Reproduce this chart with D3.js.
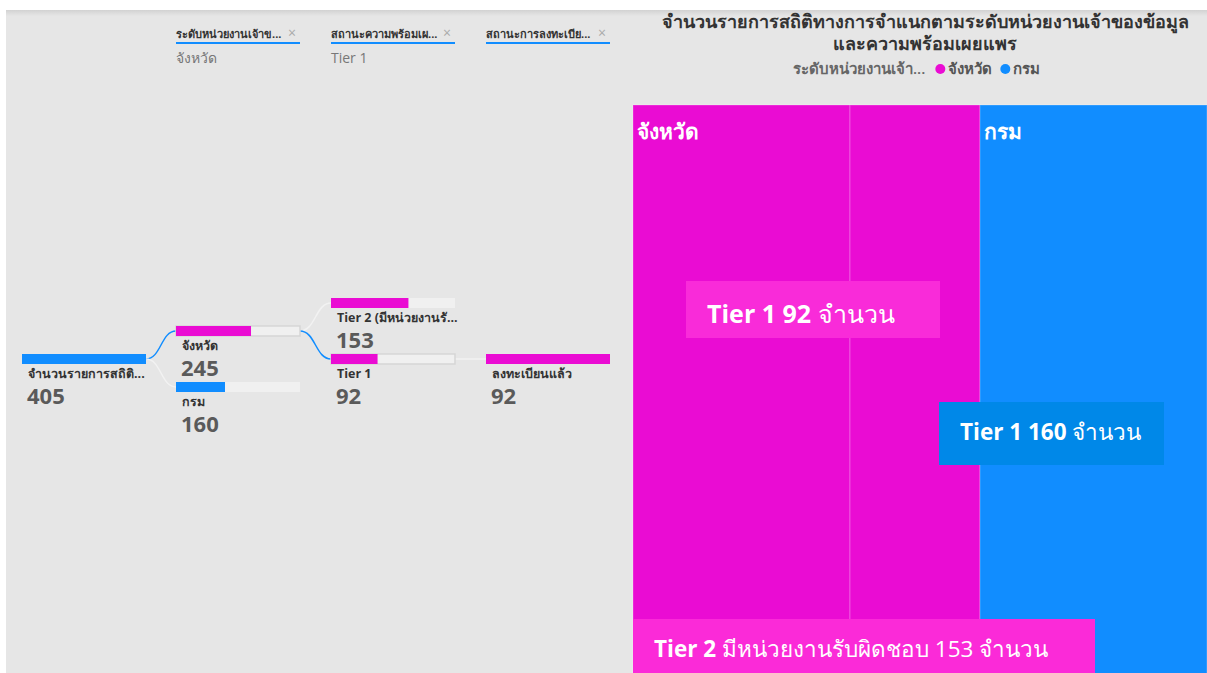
<!DOCTYPE html>
<html>
<head>
<meta charset="utf-8">
<script src="https://cdn.jsdelivr.net/npm/d3@7"></script>
<style>
  html, body { margin: 0; padding: 0; background: #ffffff; }
  svg { display: block; }
  text { font-family: "Open Sans", "Noto Sans", sans-serif; }
</style>
</head>
<body>
<svg id="chart" width="1207" height="673"></svg>
<script>
// ---- data ----
const rootLabel = "จำนวนรายการสถิติ...";
const rootValue = 405;

const ownerLabels = ["จังหวัด", "กรม"];
const ownerValues = [245, 160];

const tierLabels = ["Tier 2 (มีหน่วยงานรั...", "Tier 1"];
const tierValues = [153, 92];

const registerLabels = ["ลงทะเบียนแล้ว"];
const registerValues = [92];

const headerLabels = ["ระดับหน่วยงานเจ้าข...", "สถานะความพร้อมเผ...", "สถานะการลงทะเบีย..."];
const headerSelections = ["จังหวัด", "Tier 1", ""];

const chartTitle = ["จำนวนรายการสถิติทางการจำแนกตามระดับหน่วยงานเจ้าของข้อมูล", "และความพร้อมเผยแพร"];
const legendTitle = "ระดับหน่วยงานเจ้า...";
const legendItems = ["จังหวัด", "กรม"];

// treemap leaves: owner level, readiness tier, count
const mapOwners = ["จังหวัด", "จังหวัด", "กรม"];
const mapTiers = ["Tier 2", "Tier 1", "Tier 1"];
const mapValues = [153, 92, 160];

// callout labels on the treemap
const calloutBold = ["Tier 1 92", "Tier 1 160", "Tier 2"];
const calloutRest = [" จำนวน", " จำนวน", " มีหน่วยงานรับผิดชอบ 153 จำนวน"];

// ---- styles ----
const MAGENTA = "#ea0cd3";
const BLUE = "#118dff";
const colour = d3.scaleOrdinal().domain(ownerLabels).range([MAGENTA, BLUE]);

const svg = d3.select("#chart");

// panel background
svg.append("rect").attr("x", 6).attr("y", 10).attr("width", 1201).attr("height", 663).attr("fill", "#e6e6e6");
const shade = svg.append("defs").append("linearGradient").attr("id", "topShade").attr("x1", 0).attr("x2", 0).attr("y1", 0).attr("y2", 1);
shade.append("stop").attr("offset", 0).attr("stop-color", "#d2d2d2");
shade.append("stop").attr("offset", 1).attr("stop-color", "#e6e6e6");
svg.append("rect").attr("x", 6).attr("y", 10).attr("width", 1201).attr("height", 6).attr("fill", "url(#topShade)");

// ---- decomposition tree ----
const colX = [22, 176, 331, 486];
const barW = 124, barH = 10;

const columns = [
  { labels: [rootLabel], values: [rootValue], parent: rootValue, ys: [354], active: 0, colour: () => BLUE, track: false },
  { labels: ownerLabels, values: ownerValues, parent: rootValue, ys: [326, 382], active: 0, colour: l => colour(l), track: true },
  { labels: tierLabels, values: tierValues, parent: ownerValues[0], ys: [298, 354], active: 1, colour: () => MAGENTA, track: true },
  { labels: registerLabels, values: registerValues, parent: tierValues[1], ys: [354], active: 0, colour: () => MAGENTA, track: false }
];

const tree = svg.append("g");

// connectors from the expanded node to each of its children
const link = d3.linkHorizontal().x(d => d[0]).y(d => d[1]);
columns.forEach((col, ci) => {
  if (ci === 0) return;
  const prev = columns[ci - 1];
  const src = [colX[ci - 1] + barW, prev.ys[prev.active] + barH / 2];
  col.ys.forEach((y, i) => {
    tree.append("path")
      .attr("d", link({ source: src, target: [colX[ci], y + barH / 2] }))
      .attr("fill", "none")
      .attr("stroke", i === col.active && ci < 3 ? BLUE : "#f2f2f2")
      .attr("stroke-width", 1.5);
  });
});

columns.forEach((col, ci) => {
  const x = d3.scaleLinear().domain([0, col.parent]).range([0, barW]);
  col.labels.forEach((lab, i) => {
    const g = tree.append("g").attr("transform", `translate(${colX[ci]},${col.ys[i]})`);
    if (col.track) {
      g.append("rect").attr("width", barW).attr("height", barH).attr("fill", "#f0f0f0")
        .attr("stroke", i === col.active ? "#d6d6d6" : "none").attr("stroke-width", 1.5);
    }
    g.append("rect").attr("width", x(col.values[i])).attr("height", barH).attr("fill", col.colour(lab, i));
    g.append("text").attr("x", 6).attr("y", 24).attr("font-size", 12.5).attr("font-weight", 700)
      .attr("fill", "#333").text(lab);
    g.append("text").attr("x", 5).attr("y", 50).attr("font-size", 22).attr("font-weight", 700)
      .attr("font-family", "'Liberation Sans', Arial, sans-serif")
      .attr("fill", "#5a5a5a").text(col.values[i]);
  });
});

// column headers
headerLabels.forEach((h, i) => {
  const g = svg.append("g").attr("transform", `translate(${colX[i + 1]},0)`);
  g.append("text").attr("x", 0).attr("y", 38).attr("font-size", 11).attr("font-weight", 700).attr("fill", "#333").text(h);
  g.append("text").attr("x", barW - 4).attr("y", 38).attr("text-anchor", "end").attr("font-size", 14).attr("fill", "#aaa").text("×");
  g.append("rect").attr("x", 0).attr("y", 42).attr("width", barW).attr("height", 2).attr("fill", BLUE);
  g.append("text").attr("x", 0).attr("y", 63).attr("font-size", 14).attr("fill", "#777").text(headerSelections[i]);
});

// ---- title and legend ----
const cx = 925;
chartTitle.forEach((t, i) => {
  svg.append("text").attr("x", cx).attr("y", 28 + i * 22).attr("text-anchor", "middle")
    .attr("font-size", 18).attr("font-weight", 700).attr("fill", "#333").text(t);
});
const legend = svg.append("g").attr("transform", "translate(793,74)");
const lt = legend.append("text").attr("font-size", 15).attr("font-weight", 600).attr("fill", "#666").text(legendTitle);
let lx = lt.node().getComputedTextLength() + 10;
legendItems.forEach(item => {
  legend.append("circle").attr("cx", lx + 5).attr("cy", -5).attr("r", 5).attr("fill", colour(item));
  const t = legend.append("text").attr("x", lx + 13).attr("font-size", 15).attr("font-weight", 600).attr("fill", "#555").text(item);
  lx += 13 + t.node().getComputedTextLength() + 8;
});

// ---- treemap ----
const mapX0 = 633, mapY0 = 105, mapW = 574, mapH = 600;
const grouped = d3.group(d3.range(mapValues.length), i => mapOwners[i]);
const root = d3.hierarchy({ children: Array.from(grouped, ([k, idx]) => ({ name: k, children: idx.map(i => ({ name: mapTiers[i], value: mapValues[i] })) })) })
  .sum(d => d.value || 0);
d3.treemap().tile(d3.treemapDice).size([mapW, mapH]).round(true)(root);

const map = svg.append("g").attr("transform", `translate(${mapX0},${mapY0})`);
map.selectAll("rect.leaf").data(root.leaves()).join("rect").attr("class", "leaf")
  .attr("x", d => d.x0).attr("y", d => d.y0)
  .attr("width", d => d.x1 - d.x0).attr("height", d => d.y1 - d.y0)
  .attr("fill", d => colour(d.parent.data.name))
  .attr("stroke", "rgba(255,255,255,0.25)").attr("stroke-width", 1);
map.selectAll("text.group").data(root.children).join("text").attr("class", "group")
  .attr("x", d => d.x0 + 4).attr("y", d => d.y0 + 34)
  .attr("font-size", 21).attr("font-weight", 700).attr("fill", "#fff").text(d => d.data.name);

// callouts
const callouts = [
  { x: 686, y: 281, w: 254, h: 57, fill: "#f92bd9", size: 25, base: 42 },
  { x: 939, y: 402, w: 225, h: 63, fill: "#0088e8", size: 22.5, base: 38 },
  { x: 633, y: 619, w: 462, h: 60, fill: "#fb2ad8", size: 22.5, base: 38 }
];
callouts.forEach((c, i) => {
  svg.append("rect").attr("x", c.x).attr("y", c.y).attr("width", c.w).attr("height", c.h).attr("fill", c.fill);
  const t = svg.append("text").attr("x", c.x + 21).attr("y", c.y + c.base)
    .attr("font-size", c.size).attr("fill", "#fff");
  t.append("tspan").attr("font-weight", 700).text(calloutBold[i]);
  t.append("tspan").attr("font-weight", 400).text(calloutRest[i]);
});
</script>
</body>
</html>
